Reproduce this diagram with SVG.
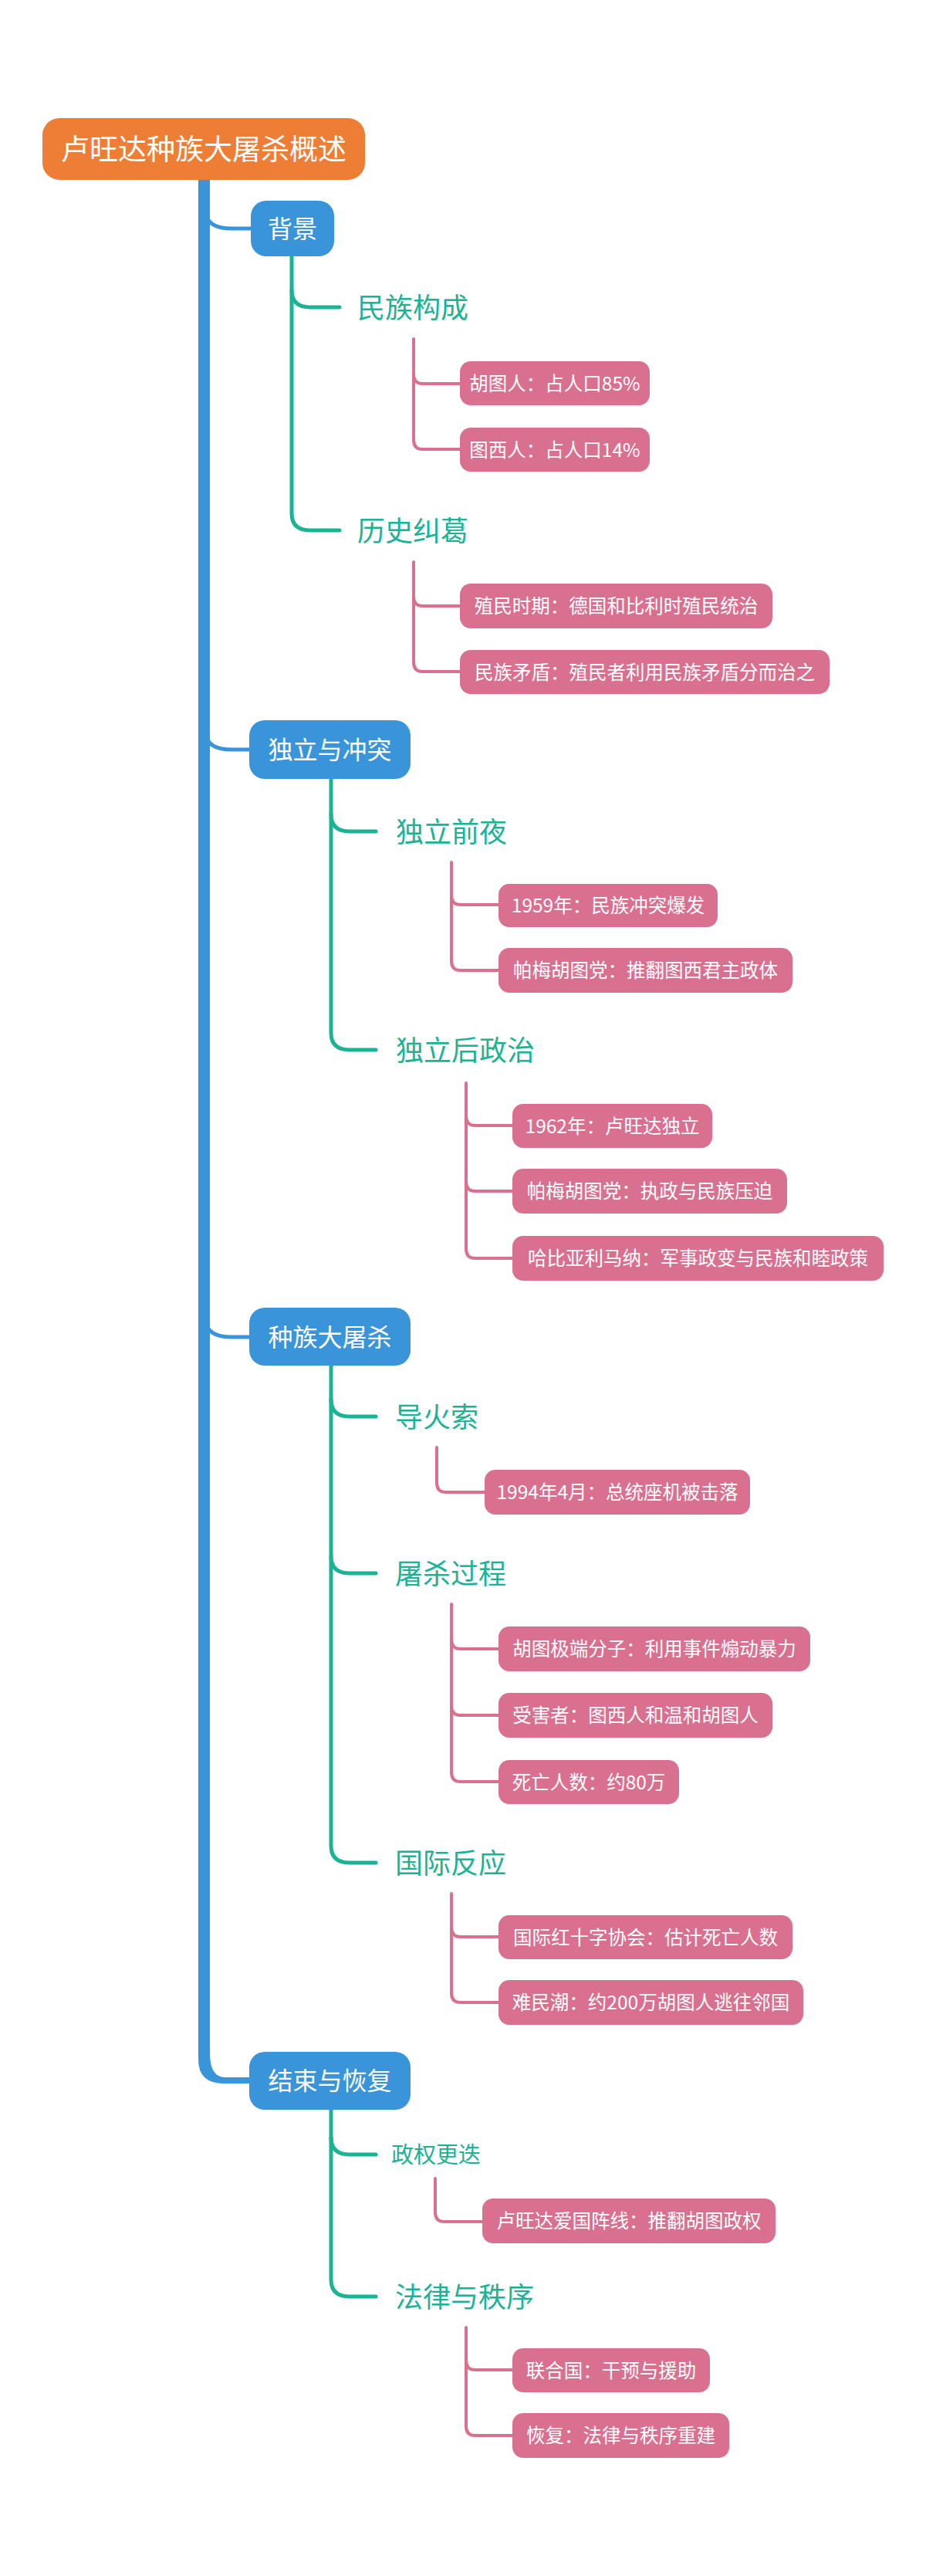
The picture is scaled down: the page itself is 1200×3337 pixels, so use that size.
<svg xmlns="http://www.w3.org/2000/svg" width="1200" height="3337" viewBox="0 0 1200 3337">
<style>
.t{font-family:"Noto Sans CJK SC","Noto Sans",sans-serif}
.root rect{fill:#EE7D35}
.root text{fill:#fff;font-size:37px}
.l1 rect{fill:#3A94DA}
.l1 text{fill:#fff;font-size:32px}
.l2 text{fill:#1AB394;font-size:36px}
.l3 rect{fill:#DA7090}
.l3 text{fill:#fff;font-size:24.5px}
.cb{fill:none;stroke:#3A94DA;stroke-width:5;stroke-linecap:round}
.cg{fill:none;stroke:#1AB394;stroke-width:5;stroke-linecap:round}
.cp{fill:none;stroke:#DA7090;stroke-width:4;stroke-linecap:round}
</style>
<rect width="1200" height="3337" fill="#fff"/>
<g id="connectors">
<path d="M257,233 V2668 Q257,2699 290,2699 H325 V2691 H292 Q272,2691 272,2660 V233 Z" fill="#3A94DA"/>
<path class="cb" d="M266,274 Q268,296 300,296 H325"/>
<path class="cb" d="M266,949 Q268,971 300,971 H323"/>
<path class="cb" d="M266,1710 Q268,1732 300,1732 H323"/>
<path class="cg" d="M378,332 V665 Q378,687 402,687 H440"/>
<path class="cg" d="M378,376 Q378,398 402,398 H440"/>
<path class="cg" d="M429,1009 V1338 Q429,1360 453,1360 H487"/>
<path class="cg" d="M429,1055 Q429,1077 453,1077 H487"/>
<path class="cg" d="M429,1769 V2391 Q429,2413 453,2413 H487"/>
<path class="cg" d="M429,1813 Q429,1835 453,1835 H487"/>
<path class="cg" d="M429,2016 Q429,2038 453,2038 H487"/>
<path class="cg" d="M429,2733 V2953 Q429,2975 453,2975 H487"/>
<path class="cg" d="M429,2769 Q429,2791 453,2791 H487"/>
<path class="cp" d="M536,439 V570 Q536,582 548,582 H596"/>
<path class="cp" d="M536,485 Q536,497 548,497 H596"/>
<path class="cp" d="M536,728 V858 Q536,870 548,870 H596"/>
<path class="cp" d="M536,773 Q536,785 548,785 H596"/>
<path class="cp" d="M585,1117 V1245 Q585,1257 597,1257 H646"/>
<path class="cp" d="M585,1160 Q585,1172 597,1172 H646"/>
<path class="cp" d="M604,1403 V1618 Q604,1630 616,1630 H664"/>
<path class="cp" d="M604,1446 Q604,1458 616,1458 H664"/>
<path class="cp" d="M604,1531 Q604,1543 616,1543 H664"/>
<path class="cp" d="M566,1875 V1921 Q566,1933 578,1933 H628"/>
<path class="cp" d="M585,2078 V2296 Q585,2308 597,2308 H646"/>
<path class="cp" d="M585,2124 Q585,2136 597,2136 H646"/>
<path class="cp" d="M585,2210 Q585,2222 597,2222 H646"/>
<path class="cp" d="M585,2453 V2582 Q585,2594 597,2594 H646"/>
<path class="cp" d="M585,2497 Q585,2509 597,2509 H646"/>
<path class="cp" d="M564,2822 V2866 Q564,2878 576,2878 H625"/>
<path class="cp" d="M604,3015 V3143 Q604,3155 616,3155 H664"/>
<path class="cp" d="M604,3058 Q604,3070 616,3070 H664"/>
</g>
<g class="t">
<g id="root" class="root"><rect x="55" y="153" width="418" height="80" rx="22"/><text x="264" y="207" text-anchor="middle">卢旺达种族大屠杀概述</text></g>
<g id="n1" class="l1"><rect x="325" y="260" width="108" height="72" rx="20"/><text x="379" y="308" text-anchor="middle">背景</text></g>
<g id="n2" class="l1"><rect x="323" y="933" width="209" height="76" rx="20"/><text x="427.5" y="983" text-anchor="middle">独立与冲突</text></g>
<g id="n3" class="l1"><rect x="323" y="1694" width="209" height="75" rx="20"/><text x="427.5" y="1744" text-anchor="middle">种族大屠杀</text></g>
<g id="n4" class="l1"><rect x="323" y="2658" width="209" height="75" rx="20"/><text x="427.5" y="2707" text-anchor="middle">结束与恢复</text></g>
<g id="n11" class="l2"><text x="463" y="412">民族构成</text></g>
<g id="n12" class="l2"><text x="463" y="701">历史纠葛</text></g>
<g id="n21" class="l2"><text x="513" y="1091">独立前夜</text></g>
<g id="n22" class="l2"><text x="513" y="1374">独立后政治</text></g>
<g id="n31" class="l2"><text x="512" y="1849">导火索</text></g>
<g id="n32" class="l2"><text x="512" y="2052">屠杀过程</text></g>
<g id="n33" class="l2"><text x="512" y="2427">国际反应</text></g>
<g id="n41" class="l2"><text x="507" y="2802" style="font-size:29px">政权更迭</text></g>
<g id="n42" class="l2"><text x="512" y="2989">法律与秩序</text></g>
<g id="n111" class="l3"><rect x="596" y="468" width="246" height="57" rx="14"/><text x="719" y="506" text-anchor="middle">胡图人：占人口85%</text></g>
<g id="n112" class="l3"><rect x="596" y="554" width="246" height="57" rx="14"/><text x="719" y="592" text-anchor="middle">图西人：占人口14%</text></g>
<g id="n121" class="l3"><rect x="596" y="756" width="405" height="58" rx="14"/><text x="798.5" y="794" text-anchor="middle">殖民时期：德国和比利时殖民统治</text></g>
<g id="n122" class="l3"><rect x="596" y="842" width="479" height="57" rx="14"/><text x="835.5" y="880" text-anchor="middle">民族矛盾：殖民者利用民族矛盾分而治之</text></g>
<g id="n211" class="l3"><rect x="646" y="1145" width="284" height="56" rx="14"/><text x="788" y="1182" text-anchor="middle">1959年：民族冲突爆发</text></g>
<g id="n212" class="l3"><rect x="646" y="1228" width="381" height="58" rx="14"/><text x="836.5" y="1266" text-anchor="middle">帕梅胡图党：推翻图西君主政体</text></g>
<g id="n221" class="l3"><rect x="664" y="1430" width="259" height="57" rx="14"/><text x="793.5" y="1468" text-anchor="middle">1962年：卢旺达独立</text></g>
<g id="n222" class="l3"><rect x="664" y="1514" width="356" height="58" rx="14"/><text x="842" y="1552" text-anchor="middle">帕梅胡图党：执政与民族压迫</text></g>
<g id="n223" class="l3"><rect x="664" y="1601" width="481" height="58" rx="14"/><text x="904.5" y="1639" text-anchor="middle">哈比亚利马纳：军事政变与民族和睦政策</text></g>
<g id="n311" class="l3"><rect x="628" y="1904" width="344" height="58" rx="14"/><text x="800" y="1942" text-anchor="middle">1994年4月：总统座机被击落</text></g>
<g id="n321" class="l3"><rect x="646" y="2107" width="404" height="58" rx="14"/><text x="848" y="2145" text-anchor="middle">胡图极端分子：利用事件煽动暴力</text></g>
<g id="n322" class="l3"><rect x="646" y="2193" width="355" height="58" rx="14"/><text x="823.5" y="2231" text-anchor="middle">受害者：图西人和温和胡图人</text></g>
<g id="n323" class="l3"><rect x="646" y="2280" width="234" height="57" rx="14"/><text x="763" y="2318" text-anchor="middle">死亡人数：约80万</text></g>
<g id="n331" class="l3"><rect x="646" y="2481" width="381" height="57" rx="14"/><text x="836.5" y="2519" text-anchor="middle">国际红十字协会：估计死亡人数</text></g>
<g id="n332" class="l3"><rect x="646" y="2565" width="395" height="58" rx="14"/><text x="843.5" y="2603" text-anchor="middle">难民潮：约200万胡图人逃往邻国</text></g>
<g id="n411" class="l3"><rect x="625" y="2848" width="380" height="58" rx="14"/><text x="815" y="2886" text-anchor="middle">卢旺达爱国阵线：推翻胡图政权</text></g>
<g id="n421" class="l3"><rect x="664" y="3042" width="256" height="57" rx="14"/><text x="792" y="3080" text-anchor="middle">联合国：干预与援助</text></g>
<g id="n422" class="l3"><rect x="664" y="3126" width="281" height="58" rx="14"/><text x="804.5" y="3164" text-anchor="middle">恢复：法律与秩序重建</text></g>
</g>
</svg>
